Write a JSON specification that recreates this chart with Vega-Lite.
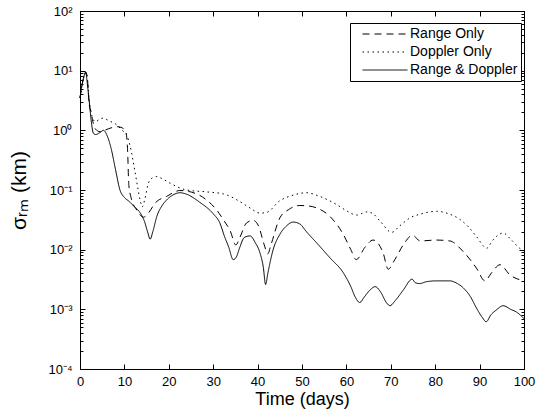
{
"$schema": "https://vega.github.io/schema/vega-lite/v6.json",
"width": 444, "height": 358,
"autosize": {"type": "none"},
"padding": {"left": 80, "top": 11, "right": 15, "bottom": 45},
"background": "white",
"config": {
  "view": {"stroke": "black", "strokeWidth": 1},
  "font": "Liberation Sans",
  "axis": {"domainColor": "black", "tickColor": "black", "labelColor": "black", "titleColor": "black", "labelFont": "Liberation Sans", "titleFont": "Liberation Sans", "labelFontSize": 13, "titleFontSize": 18, "titleFontWeight": "normal", "grid": false, "labelOverlap": false, "labelBound": false, "labelFlush": false}
},
"data": {"values": [
{"series":"Range & Doppler","t":0,"v":3.5},{"series":"Range & Doppler","t":0.5,"v":6},{"series":"Range & Doppler","t":1.0,"v":8.5},{"series":"Range & Doppler","t":1.3,"v":9.3},{"series":"Range & Doppler","t":1.6,"v":6.5},{"series":"Range & Doppler","t":2.0,"v":3.5},{"series":"Range & Doppler","t":2.5,"v":1.5},{"series":"Range & Doppler","t":3.0,"v":0.9},{"series":"Range & Doppler","t":3.5,"v":0.85},{"series":"Range & Doppler","t":4.5,"v":0.92},{"series":"Range & Doppler","t":5.3,"v":1.0},{"series":"Range & Doppler","t":6.0,"v":0.85},{"series":"Range & Doppler","t":7.0,"v":0.5},{"series":"Range & Doppler","t":8.0,"v":0.22},{"series":"Range & Doppler","t":9.0,"v":0.1},{"series":"Range & Doppler","t":10.0,"v":0.075},{"series":"Range & Doppler","t":11.0,"v":0.065},{"series":"Range & Doppler","t":12.3,"v":0.052},{"series":"Range & Doppler","t":13.5,"v":0.042},{"series":"Range & Doppler","t":14.5,"v":0.03},{"series":"Range & Doppler","t":15.3,"v":0.019},{"series":"Range & Doppler","t":15.8,"v":0.015},{"series":"Range & Doppler","t":16.4,"v":0.02},{"series":"Range & Doppler","t":17.3,"v":0.036},{"series":"Range & Doppler","t":18.5,"v":0.055},{"series":"Range & Doppler","t":19.5,"v":0.068},{"series":"Range & Doppler","t":21,"v":0.083},{"series":"Range & Doppler","t":22.5,"v":0.09},{"series":"Range & Doppler","t":24,"v":0.085},{"series":"Range & Doppler","t":27,"v":0.062},{"series":"Range & Doppler","t":30,"v":0.04},{"series":"Range & Doppler","t":31.5,"v":0.028},{"series":"Range & Doppler","t":32.5,"v":0.017},{"series":"Range & Doppler","t":33.5,"v":0.011},{"series":"Range & Doppler","t":34.5,"v":0.0068},{"series":"Range & Doppler","t":35.2,"v":0.0075},{"series":"Range & Doppler","t":36,"v":0.011},{"series":"Range & Doppler","t":37,"v":0.016},{"series":"Range & Doppler","t":38.3,"v":0.017},{"series":"Range & Doppler","t":39.5,"v":0.013},{"series":"Range & Doppler","t":40.5,"v":0.009},{"series":"Range & Doppler","t":41.3,"v":0.005},{"series":"Range & Doppler","t":41.8,"v":0.0026},{"series":"Range & Doppler","t":42.3,"v":0.004},{"series":"Range & Doppler","t":43.5,"v":0.01},{"series":"Range & Doppler","t":45,"v":0.018},{"series":"Range & Doppler","t":46.5,"v":0.025},{"series":"Range & Doppler","t":48,"v":0.029},{"series":"Range & Doppler","t":49.5,"v":0.027},{"series":"Range & Doppler","t":51,"v":0.02},{"series":"Range & Doppler","t":53.3,"v":0.013},{"series":"Range & Doppler","t":56.3,"v":0.0073},{"series":"Range & Doppler","t":59.3,"v":0.0041},{"series":"Range & Doppler","t":61,"v":0.0024},{"series":"Range & Doppler","t":62,"v":0.0016},{"series":"Range & Doppler","t":63,"v":0.0013},{"series":"Range & Doppler","t":64,"v":0.0016},{"series":"Range & Doppler","t":65.3,"v":0.0021},{"series":"Range & Doppler","t":66.5,"v":0.0024},{"series":"Range & Doppler","t":67.8,"v":0.0019},{"series":"Range & Doppler","t":69,"v":0.0013},{"series":"Range & Doppler","t":69.8,"v":0.00115},{"series":"Range & Doppler","t":71,"v":0.0014},{"series":"Range & Doppler","t":72.8,"v":0.0021},{"series":"Range & Doppler","t":74.8,"v":0.0032},{"series":"Range & Doppler","t":75.5,"v":0.0028},{"series":"Range & Doppler","t":76.5,"v":0.0027},{"series":"Range & Doppler","t":78,"v":0.0029},{"series":"Range & Doppler","t":80.3,"v":0.003},{"series":"Range & Doppler","t":83.3,"v":0.003},{"series":"Range & Doppler","t":85,"v":0.0027},{"series":"Range & Doppler","t":86.3,"v":0.0023},{"series":"Range & Doppler","t":88,"v":0.0016},{"series":"Range & Doppler","t":89.3,"v":0.00105},{"series":"Range & Doppler","t":90.5,"v":0.00075},{"series":"Range & Doppler","t":91.5,"v":0.00062},{"series":"Range & Doppler","t":92.5,"v":0.0008},{"series":"Range & Doppler","t":93.8,"v":0.00098},{"series":"Range & Doppler","t":95.3,"v":0.00115},{"series":"Range & Doppler","t":97,"v":0.001},{"series":"Range & Doppler","t":98.3,"v":0.0009},{"series":"Range & Doppler","t":100,"v":0.0007},
{"series":"Range Only","t":0,"v":3.5},{"series":"Range Only","t":0.5,"v":6},{"series":"Range Only","t":1.0,"v":8.5},{"series":"Range Only","t":1.3,"v":9.5},{"series":"Range Only","t":1.7,"v":7},{"series":"Range Only","t":2.0,"v":3},{"series":"Range Only","t":2.5,"v":2.0},{"series":"Range Only","t":2.9,"v":1.4},{"series":"Range Only","t":3.5,"v":1.05},{"series":"Range Only","t":4.5,"v":0.95},{"series":"Range Only","t":5.5,"v":1.0},{"series":"Range Only","t":7,"v":1.1},{"series":"Range Only","t":8.5,"v":1.15},{"series":"Range Only","t":9.5,"v":1.1},{"series":"Range Only","t":10.3,"v":0.95},{"series":"Range Only","t":10.7,"v":0.5},{"series":"Range Only","t":11.0,"v":0.12},{"series":"Range Only","t":11.5,"v":0.075},{"series":"Range Only","t":12.8,"v":0.046},{"series":"Range Only","t":14.3,"v":0.035},{"series":"Range Only","t":15.5,"v":0.042},{"series":"Range Only","t":16.9,"v":0.06},{"series":"Range Only","t":19.5,"v":0.078},{"series":"Range Only","t":22.5,"v":0.098},{"series":"Range Only","t":26.3,"v":0.086},{"series":"Range Only","t":28.5,"v":0.068},{"series":"Range Only","t":30.8,"v":0.046},{"series":"Range Only","t":32.5,"v":0.03},{"series":"Range Only","t":33.8,"v":0.021},{"series":"Range Only","t":35.1,"v":0.012},{"series":"Range Only","t":36,"v":0.016},{"series":"Range Only","t":37.5,"v":0.028},{"series":"Range Only","t":39,"v":0.031},{"series":"Range Only","t":40.2,"v":0.025},{"series":"Range Only","t":41.5,"v":0.012},{"series":"Range Only","t":42.3,"v":0.0085},{"series":"Range Only","t":43,"v":0.012},{"series":"Range Only","t":45,"v":0.034},{"series":"Range Only","t":47,"v":0.047},{"series":"Range Only","t":49.5,"v":0.055},{"series":"Range Only","t":51.5,"v":0.054},{"series":"Range Only","t":53.3,"v":0.05},{"series":"Range Only","t":56.3,"v":0.036},{"series":"Range Only","t":59.3,"v":0.018},{"series":"Range Only","t":61,"v":0.01},{"series":"Range Only","t":62.2,"v":0.0068},{"series":"Range Only","t":64.2,"v":0.011},{"series":"Range Only","t":66,"v":0.0145},{"series":"Range Only","t":68.3,"v":0.0087},{"series":"Range Only","t":69.4,"v":0.0047},{"series":"Range Only","t":70.9,"v":0.0068},{"series":"Range Only","t":72.8,"v":0.012},{"series":"Range Only","t":74.9,"v":0.0175},{"series":"Range Only","t":76.6,"v":0.014},{"series":"Range Only","t":80.3,"v":0.0145},{"series":"Range Only","t":83.3,"v":0.014},{"series":"Range Only","t":86.3,"v":0.0093},{"series":"Range Only","t":89.3,"v":0.0049},{"series":"Range Only","t":91.2,"v":0.003},{"series":"Range Only","t":92.7,"v":0.0041},{"series":"Range Only","t":94.6,"v":0.0056},{"series":"Range Only","t":96.8,"v":0.0038},{"series":"Range Only","t":100,"v":0.003},
{"series":"Doppler Only","t":0,"v":3.5},{"series":"Doppler Only","t":0.5,"v":6},{"series":"Doppler Only","t":1.0,"v":8.5},{"series":"Doppler Only","t":1.3,"v":9.5},{"series":"Doppler Only","t":1.7,"v":7},{"series":"Doppler Only","t":2.0,"v":3.5},{"series":"Doppler Only","t":2.5,"v":2},{"series":"Doppler Only","t":3.0,"v":1.5},{"series":"Doppler Only","t":3.5,"v":1.4},{"series":"Doppler Only","t":4.5,"v":1.55},{"series":"Doppler Only","t":5.2,"v":1.6},{"series":"Doppler Only","t":6.5,"v":1.45},{"series":"Doppler Only","t":8.3,"v":1.23},{"series":"Doppler Only","t":9.5,"v":1.0},{"series":"Doppler Only","t":10.5,"v":0.84},{"series":"Doppler Only","t":11.3,"v":0.54},{"series":"Doppler Only","t":12.4,"v":0.2},{"series":"Doppler Only","t":13.1,"v":0.1},{"series":"Doppler Only","t":13.6,"v":0.065},{"series":"Doppler Only","t":14,"v":0.052},{"series":"Doppler Only","t":14.6,"v":0.07},{"series":"Doppler Only","t":15.4,"v":0.13},{"series":"Doppler Only","t":16.3,"v":0.16},{"series":"Doppler Only","t":17.3,"v":0.168},{"series":"Doppler Only","t":18.5,"v":0.155},{"series":"Doppler Only","t":20.3,"v":0.13},{"series":"Doppler Only","t":24,"v":0.1},{"series":"Doppler Only","t":28.5,"v":0.093},{"series":"Doppler Only","t":32.3,"v":0.086},{"series":"Doppler Only","t":36,"v":0.064},{"series":"Doppler Only","t":38.3,"v":0.05},{"series":"Doppler Only","t":40.5,"v":0.041},{"series":"Doppler Only","t":42,"v":0.042},{"series":"Doppler Only","t":45,"v":0.066},{"series":"Doppler Only","t":48,"v":0.082},{"series":"Doppler Only","t":51,"v":0.09},{"series":"Doppler Only","t":54,"v":0.078},{"series":"Doppler Only","t":57.8,"v":0.057},{"series":"Doppler Only","t":60,"v":0.045},{"series":"Doppler Only","t":62.3,"v":0.038},{"series":"Doppler Only","t":64.6,"v":0.043},{"series":"Doppler Only","t":66,"v":0.04},{"series":"Doppler Only","t":67.6,"v":0.03},{"series":"Doppler Only","t":70.2,"v":0.0195},{"series":"Doppler Only","t":72,"v":0.025},{"series":"Doppler Only","t":74.3,"v":0.034},{"series":"Doppler Only","t":77,"v":0.04},{"series":"Doppler Only","t":80.3,"v":0.044},{"series":"Doppler Only","t":83,"v":0.04},{"series":"Doppler Only","t":85.6,"v":0.032},{"series":"Doppler Only","t":87.5,"v":0.024},{"series":"Doppler Only","t":89.3,"v":0.0166},{"series":"Doppler Only","t":91.6,"v":0.0106},{"series":"Doppler Only","t":93,"v":0.0145},{"series":"Doppler Only","t":95.3,"v":0.019},{"series":"Doppler Only","t":97,"v":0.015},{"series":"Doppler Only","t":99,"v":0.0106},{"series":"Doppler Only","t":100,"v":0.0095}
]},
"layer": [
  {
    "mark": {"type": "line", "color": "black", "strokeWidth": 1, "interpolate": "monotone"},
    "encoding": {
      "x": {"field": "t", "type": "quantitative", "scale": {"domain": [0, 100], "nice": false, "zero": false},
        "axis": {"orient": "bottom", "values": [0,10,20,30,40,50,60,70,80,90,100], "title": "Time (days)", "tickSize": -5, "labelPadding": 11, "titlePadding": 2}},
      "y": {"field": "v", "type": "quantitative", "scale": {"type": "log", "domain": [0.0001, 100], "nice": false},
        "axis": {"orient": "left", "title": "σᵣₘ (km)", "titlePadding": 18, "titleFontSize": 21,
          "values": [0.0001,0.0002,0.0003,0.0004,0.0005,0.0006,0.0007,0.0008,0.0009,0.001,0.002,0.003,0.004,0.005,0.006,0.007,0.008,0.009,0.01,0.02,0.03,0.04,0.05,0.06,0.07,0.08,0.09,0.1,0.2,0.3,0.4,0.5,0.6,0.7,0.8,0.9,1,2,3,4,5,6,7,8,9,10,20,30,40,50,60,70,80,90,100],
          "tickSize": {"condition": {"test": "abs(log(datum.value)/LN10 - round(log(datum.value)/LN10)) < 0.001", "value": -5}, "value": -3},
          "labelPadding": 13, "labelAlign": "right", "labelBaseline": "middle",
          "labelExpr": "datum.value==100?'10²':datum.value==10?'10¹':datum.value==1?'10⁰':datum.value==0.1?'10⁻¹':datum.value==0.01?'10⁻²':datum.value==0.001?'10⁻³':datum.value==0.0001?'10⁻⁴':''"}},
      "strokeDash": {"field": "series", "type": "nominal",
        "scale": {"domain": ["Range Only", "Doppler Only", "Range & Doppler"], "range": [[7, 5], [1.5, 3.5], [1, 0]]},
        "legend": {"title": null, "orient": "none", "legendX": 270, "legendY": 12, "symbolType": "stroke", "symbolSize": 2025, "clipHeight": 16, "symbolStrokeWidth": 1, "symbolStrokeColor": "black", "labelFontSize": 14, "labelFont": "Liberation Sans", "labelColor": "black", "strokeColor": "black", "fillColor": "white", "padding": 3, "symbolOffset": 9, "labelOffset": 2, "rowPadding": 2, "cornerRadius": 0}}
    }
  },
  {
    "mark": {"type": "line", "opacity": 0},
    "encoding": {
      "x": {"field": "t", "type": "quantitative", "axis": {"orient": "top", "values": [0,10,20,30,40,50,60,70,80,90,100], "labels": false, "title": null, "tickSize": -5}},
      "y": {"field": "v", "type": "quantitative",
        "axis": {"orient": "right", "labels": false, "title": null,
          "values": [0.0001,0.0002,0.0003,0.0004,0.0005,0.0006,0.0007,0.0008,0.0009,0.001,0.002,0.003,0.004,0.005,0.006,0.007,0.008,0.009,0.01,0.02,0.03,0.04,0.05,0.06,0.07,0.08,0.09,0.1,0.2,0.3,0.4,0.5,0.6,0.7,0.8,0.9,1,2,3,4,5,6,7,8,9,10,20,30,40,50,60,70,80,90,100],
          "tickSize": {"condition": {"test": "abs(log(datum.value)/LN10 - round(log(datum.value)/LN10)) < 0.001", "value": -5}, "value": -3}}},
      "detail": {"field": "series"}
    }
  }
],
"resolve": {"axis": {"x": "independent", "y": "independent"}}
}
